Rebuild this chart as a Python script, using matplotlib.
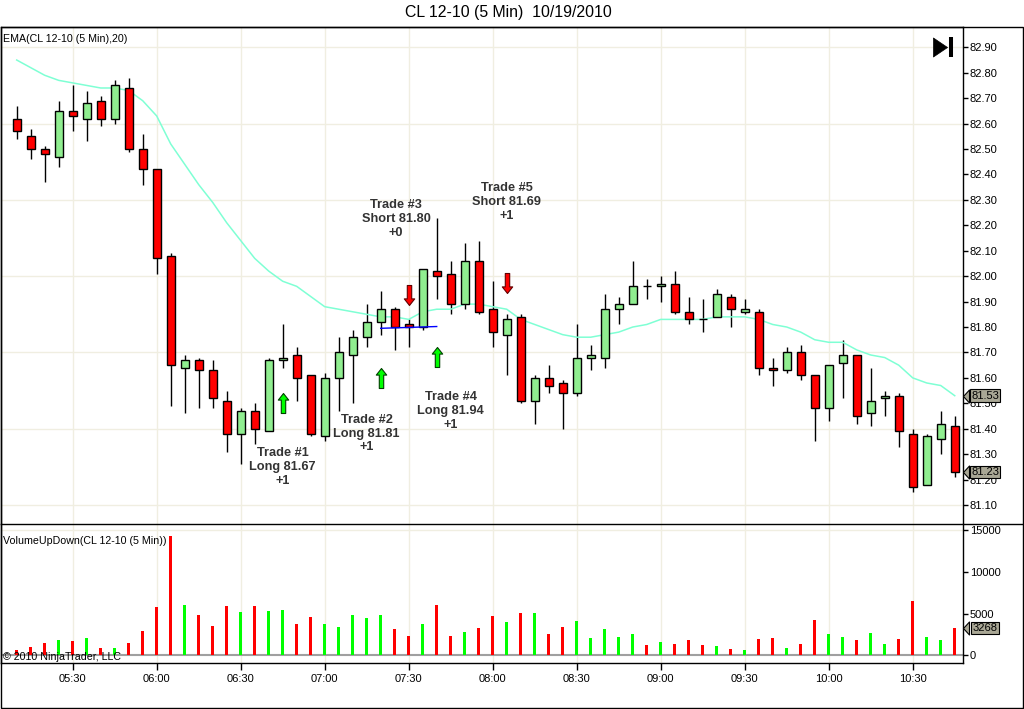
import numpy as np
import pandas as pd
import matplotlib
matplotlib.use("Agg")
import matplotlib.pyplot as plt
from matplotlib.path import Path
from matplotlib.lines import Line2D
from matplotlib.patches import Rectangle
from matplotlib.transforms import blended_transform_factory

plt.rcParams['font.family'] = ['Liberation Sans', 'DejaVu Sans']

# ---------------- data ----------------
bar_times = pd.date_range("2010-10-19 05:10", periods=68, freq="5min")

opens = [82.62, 82.55, 82.50, 82.47, 82.65, 82.62, 82.69, 82.62, 82.74, 82.50,
         82.42, 82.08, 81.64, 81.67, 81.63, 81.51, 81.38, 81.47, 81.39, 81.67,
         81.69, 81.61, 81.37, 81.60, 81.69, 81.76, 81.82, 81.87, 81.81, 81.80,
         82.02, 82.01, 81.89, 82.06, 81.87, 81.77, 81.84, 81.51, 81.60, 81.58,
         81.54, 81.68, 81.68, 81.87, 81.89, 81.96, 81.96, 81.97, 81.86, 81.83,
         81.84, 81.92, 81.86, 81.86, 81.64, 81.63, 81.70, 81.61, 81.48, 81.66,
         81.69, 81.46, 81.52, 81.53, 81.38, 81.18, 81.36, 81.41]
highs = [82.67, 82.58, 82.51, 82.69, 82.75, 82.73, 82.71, 82.77, 82.78, 82.56,
         82.42, 82.09, 81.69, 81.68, 81.67, 81.55, 81.48, 81.50, 81.68, 81.81,
         81.72, 81.61, 81.62, 81.76, 81.79, 81.89, 81.94, 81.88, 81.83, 82.03,
         82.23, 82.06, 82.13, 82.14, 81.98, 81.85, 81.85, 81.61, 81.65, 81.59,
         81.81, 81.73, 81.93, 81.92, 82.06, 81.99, 82.00, 82.02, 81.92, 81.91,
         81.95, 81.93, 81.91, 81.87, 81.68, 81.72, 81.73, 81.61, 81.65, 81.75,
         81.69, 81.64, 81.55, 81.54, 81.40, 81.38, 81.47, 81.45]
lows = [82.54, 82.46, 82.37, 82.43, 82.57, 82.53, 82.59, 82.60, 82.49, 82.36,
        82.01, 81.49, 81.46, 81.48, 81.48, 81.31, 81.26, 81.34, 81.39, 81.64,
        81.51, 81.37, 81.35, 81.47, 81.50, 81.72, 81.77, 81.71, 81.72, 81.79,
        81.91, 81.85, 81.87, 81.85, 81.72, 81.61, 81.50, 81.42, 81.54, 81.40,
        81.53, 81.63, 81.64, 81.81, 81.89, 81.91, 81.90, 81.85, 81.81, 81.78,
        81.84, 81.80, 81.85, 81.61, 81.57, 81.62, 81.59, 81.35, 81.43, 81.52,
        81.42, 81.41, 81.45, 81.33, 81.15, 81.18, 81.30, 81.21]
closes = [82.57, 82.50, 82.48, 82.65, 82.63, 82.68, 82.62, 82.75, 82.50, 82.42,
          82.07, 81.65, 81.67, 81.63, 81.52, 81.38, 81.47, 81.40, 81.67, 81.68,
          81.60, 81.38, 81.60, 81.70, 81.76, 81.82, 81.87, 81.80, 81.80, 82.03,
          82.00, 81.89, 82.06, 81.86, 81.78, 81.83, 81.51, 81.60, 81.57, 81.54,
          81.68, 81.69, 81.87, 81.89, 81.96, 81.96, 81.97, 81.86, 81.83, 81.83,
          81.93, 81.87, 81.87, 81.64, 81.63, 81.70, 81.61, 81.48, 81.65, 81.69,
          81.45, 81.51, 81.53, 81.39, 81.17, 81.37, 81.42, 81.23]
ema20 = [82.85, 82.82, 82.79, 82.77, 82.76, 82.75, 82.74, 82.74, 82.73, 82.69,
         82.63, 82.52, 82.44, 82.36, 82.29, 82.21, 82.14, 82.07, 82.02, 81.98,
         81.96, 81.92, 81.88, 81.87, 81.86, 81.85, 81.84, 81.84, 81.83, 81.86,
         81.87, 81.87, 81.89, 81.89, 81.88, 81.87, 81.83, 81.81, 81.79, 81.77,
         81.76, 81.76, 81.77, 81.78, 81.80, 81.81, 81.83, 81.83, 81.83, 81.83,
         81.84, 81.84, 81.84, 81.83, 81.81, 81.80, 81.78, 81.75, 81.74, 81.74,
         81.71, 81.69, 81.68, 81.65, 81.60, 81.58, 81.57, 81.53]
volume = [650, 1000, 1470, 1830, 1710, 2070, 875, 875, 1470, 2905,
          5770, 14290, 6010, 4815, 3500, 5890, 5175, 5890, 5290, 5410,
          3740, 4580, 3740, 3380, 4815, 4460, 4815, 3145, 2310, 3740,
          6010, 2310, 2785, 3265, 4700, 3980, 5055, 5055, 2550, 3380,
          4100, 2070, 3145, 2190, 2550, 1235, 1590, 1350, 1830, 1235,
          1115, 755, 640, 1950, 2070, 875, 1350, 4220, 2550, 2190,
          1830, 2665, 1350, 1950, 6490, 2190, 1830, 3268]

# trade markers: (bar index, price)
long_arrows = [(19, 81.500), (26, 81.601), (30, 81.683)]
short_arrows = [(28, 81.926), (35, 81.972)]
trade_line_bars = [26, 30]
trade_line_prices = [81.795, 81.802]
trade_notes = [
    (19.0, 81.250, "Trade #1\nLong 81.67\n+1"),
    (25.0, 81.380, "Trade #2\nLong 81.81\n+1"),
    (27.1, 82.225, "Trade #3\nShort 81.80\n+0"),
    (31.0, 81.470, "Trade #4\nLong 81.94\n+1"),
    (35.0, 82.292, "Trade #5\nShort 81.69\n+1"),
]
title = "CL 12-10 (5 Min)  10/19/2010"

# ---------------- figure ----------------
W, H = 1024, 709
fig = plt.figure(figsize=(W / 100, H / 100), dpi=100)
fig.patch.set_facecolor('white')


def fx(px):
    return px / W


def fy(py):
    return 1 - py / H


LEFT, RIGHT = 1, 963
TOP, SEP, BOT = 27.3, 523.7, 662.7
ax = fig.add_axes([fx(LEFT), fy(SEP), fx(RIGHT - LEFT), (SEP - TOP) / H])
axv = fig.add_axes([fx(LEFT), fy(BOT), fx(RIGHT - LEFT), (BOT - SEP) / H], sharex=ax)

x = np.arange(len(opens))
o = np.array(opens); c = np.array(closes); h = np.array(highs); l = np.array(lows)
up = c > o

grid_col = '#F0EEE1'

# candles
ax.vlines(x, l, h, color='black', lw=1.0, zorder=2)
body_bottom = np.minimum(o, c)
body_h = np.abs(c - o)
ax.bar(x, body_h, bottom=body_bottom, width=0.58,
       color=np.where(up, '#90EE90', '#FF0000'), edgecolor='black', lw=1.0, zorder=3)

# EMA
ax.plot(x, ema20, color='#7FFFD4', lw=1.1, zorder=2.5)

# trade line
ax.plot(trade_line_bars, trade_line_prices, color='#0000FF', lw=1.0, zorder=4)

# arrows
up_arrow = Path([(-0.11, -0.5), (0.11, -0.5), (0.11, 0.17), (0.26, 0.17), (0.0, 0.5),
                 (-0.26, 0.17), (-0.11, 0.17), (-0.11, -0.5)], closed=True)
down_arrow = Path([(vx, -vy) for vx, vy in up_arrow.vertices], closed=True)
ax.plot([a[0] for a in long_arrows], [a[1] for a in long_arrows], ls='none',
        marker=up_arrow, ms=14.4, mfc='#00FF00', mec='#004000', mew=0.8, zorder=5)
ax.plot([a[0] for a in short_arrows], [a[1] for a in short_arrows], ls='none',
        marker=down_arrow, ms=14.4, mfc='#FF0000', mec='#600000', mew=0.8, zorder=5)

for bx, py, txt in trade_notes:
    ax.text(bx, py, txt, ha='center', va='center', fontsize=9.2, fontweight='bold',
            color='#333333', linespacing=1.18, zorder=6)

# axes limits
ax.set_xlim(-1.121, 67.59)
ax.set_ylim(82.90 - (SEP - 47.3) / 254.3, 82.90 + (47.3 - TOP) / 254.3)
axv.set_ylim(-(BOT - 655.3) / 8.36 * 1000, (655.3 - SEP) / 8.36 * 1000)

# grids
for gv in np.arange(81.10, 82.95, 0.30):
    ax.axhline(gv, color=grid_col, lw=1.0, zorder=0)
tick_idx = [i for i, t in enumerate(bar_times) if t.minute in (0, 30)]
tick_lab = [bar_times[i].strftime('%H:%M') for i in tick_idx]
for ti in tick_idx:
    ax.axvline(ti, color=grid_col, lw=1.0, zorder=0)
    axv.axvline(ti, color=grid_col, lw=1.0, zorder=0)
axv.axhline(15000, color=grid_col, lw=1.0, zorder=0)

# volume bars
axv.bar(x, volume, width=0.2, color=np.where(up, '#00FF00', '#FF0000'), zorder=3)
axv.axhline(0, color='#A0A0A0', lw=1.5, zorder=2)

# ticks
ax.yaxis.tick_right()
ax.set_yticks(np.round(np.arange(81.10, 82.91, 0.10), 2))
ax.set_yticklabels([f"{v:.2f}" for v in np.arange(81.10, 82.91, 0.10)])
ax.tick_params(axis='y', direction='out', length=3.5, width=1, labelsize=8, pad=1.5, colors='black')
ax.tick_params(axis='x', length=0, labelbottom=False)
axv.yaxis.tick_right()
axv.set_yticks([0, 5000, 10000, 15000])
axv.set_yticklabels(['0', '5000', '10000', '15000'])
axv.tick_params(axis='y', direction='out', length=3.5, width=1, labelsize=8, pad=1.5)
axv.set_xticks(tick_idx)
axv.set_xticklabels(tick_lab)
axv.tick_params(axis='x', direction='out', length=5, width=1, labelsize=8, pad=3)

for a in (ax, axv):
    for s in a.spines.values():
        s.set_color('black'); s.set_linewidth(1.0)
axv.spines['top'].set_visible(False)
ax.spines['bottom'].set_visible(False)

# tags on the axis
tag_path = Path([(-0.23, 0.0), (0.23, -0.5), (0.23, 0.5), (-0.23, 0.0)], closed=True)


def tag(a, yv, txt):
    tr = blended_transform_factory(a.transAxes, a.transData)
    a.text((985 - LEFT) / (RIGHT - LEFT), yv, txt, transform=tr, ha='center', va='center',
           fontsize=8, clip_on=False, zorder=10,
           bbox=dict(boxstyle='square,pad=0.12', fc='#A9A795', ec='black', lw=0.8))
    a.plot([(966.3 - LEFT) / (RIGHT - LEFT)], [yv], transform=tr, marker=tag_path, ms=9.4,
           mfc='#A9A795', mec='black', mew=0.8, clip_on=False, zorder=11)


tag(ax, ema20[-1], f"{ema20[-1]:.2f}")
tag(ax, closes[-1], f"{closes[-1]:.2f}")
tag(axv, volume[-1], f"{volume[-1]}")

# panel labels
fig.text(fx(3), fy(39), "EMA(CL 12-10 (5 Min),20)", fontsize=7.7, va='center', ha='left')
fig.text(fx(3), fy(541), "VolumeUpDown(CL 12-10 (5 Min))", fontsize=7.7, va='center', ha='left')
fig.text(fx(3), fy(657), "\u00a9 2010 NinjaTrader, LLC", fontsize=7.7, va='center', ha='left')
fig.text(fx(508), fy(13), title, fontsize=11.4, va='center', ha='center')

# play-to-end icon
tri = Path([(0.37, 0.0), (-0.37, -0.5), (-0.37, 0.5), (0.37, 0.0)], closed=True)
ax.plot([(940 - LEFT) / (RIGHT - LEFT)], [(SEP - 47.5) / (SEP - TOP)], transform=ax.transAxes,
        marker=tri, ms=13.7, mfc='black', mec='black', mew=0.5, clip_on=False, zorder=12)
ax.plot([(951 - LEFT) / (RIGHT - LEFT)], [(SEP - 47.5) / (SEP - TOP)], transform=ax.transAxes,
        marker='|', ms=13.7, mec='black', mew=2.9, clip_on=False, zorder=12)

# outer frame and separator
fig.add_artist(Rectangle((fx(1), fy(707.7)), fx(1022), (707.7 - 27) / H, fill=False,
                         ec='black', lw=1.0, transform=fig.transFigure))
fig.add_artist(Line2D([fx(1), fx(1023)], [fy(SEP), fy(SEP)], color='black', lw=1.0,
                      transform=fig.transFigure))

fig.savefig("out.png", dpi=100)
